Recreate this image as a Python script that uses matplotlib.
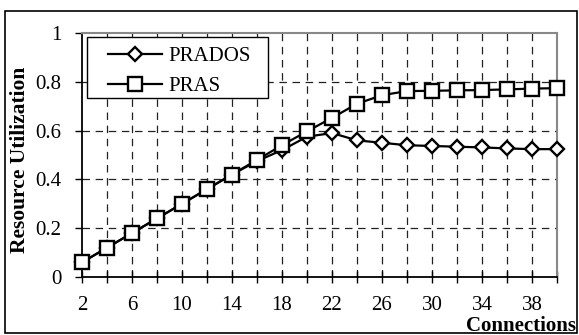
import matplotlib
matplotlib.use("Agg")
import matplotlib.pyplot as plt
from matplotlib.patches import Rectangle

connections = [2, 4, 6, 8, 10, 12, 14, 16, 18, 20, 22, 24, 26, 28, 30, 32, 34, 36, 38, 40]
prados = [0.06, 0.12, 0.18, 0.24, 0.30, 0.36, 0.42, 0.475, 0.52, 0.575, 0.59, 0.56, 0.55, 0.54, 0.537, 0.534, 0.531, 0.527, 0.524, 0.524]
pras = [0.06, 0.12, 0.18, 0.24, 0.30, 0.36, 0.42, 0.48, 0.54, 0.597, 0.652, 0.71, 0.745, 0.762, 0.763, 0.765, 0.766, 0.769, 0.772, 0.774]
xtick_labels = ["2", "", "6", "", "10", "", "14", "", "18", "", "22", "", "26", "", "30", "", "34", "", "38", ""]
ytick_values = [0, 0.2, 0.4, 0.6, 0.8, 1.0]
ytick_labels = ["0", "0.2", "0.4", "0.6", "0.8", "1"]

plt.rcParams['font.family'] = ['Liberation Serif', 'DejaVu Serif']

W, H = 579, 335
fig = plt.figure(figsize=(W / 100, H / 100), dpi=100)

def fx(px):
    return px / W

def fy(py):
    return 1 - py / H

AX_L, AX_R, AX_T, AX_B = 82, 557, 33, 277
ax = fig.add_axes([fx(AX_L), fy(AX_B), fx(AX_R) - fx(AX_L), fy(AX_T) - fy(AX_B)])

def ax_x(px):
    return (px - AX_L) / (AX_R - AX_L)

def ax_y(py):
    return (AX_B - py) / (AX_B - AX_T)

ax.plot(connections, prados, color='black', lw=1.6, marker='D', ms=7.2,
        mfc='white', mec='black', mew=1.7, label='PRADOS', zorder=3, clip_on=False)
ax.plot(connections, pras, color='black', lw=1.6, marker='s', ms=9.5,
        mfc='white', mec='black', mew=1.7, label='PRAS', zorder=4, clip_on=False)

ax.set_xlim(2, 40)
ax.set_ylim(0, 1)
ax.set_xticks(connections)
ax.set_xticklabels(xtick_labels)
ax.set_yticks(ytick_values)
ax.set_yticklabels(ytick_labels)

ax.tick_params(axis='x', direction='inout', length=9, width=1, labelsize=15, pad=9.5, color='black')
ax.tick_params(axis='y', direction='out', length=5, width=1, labelsize=15, pad=10, color='black')

for v in connections[1:-1]:
    ax.axvline(v, color='#222222', lw=0.9, ls=(0, (6, 4.5)), zorder=1)
for v in ytick_values[1:-1]:
    ax.axhline(v, color='#222222', lw=0.9, ls=(0, (6, 4.5)), zorder=1)

for s in ['top', 'right']:
    ax.spines[s].set_color('#888888')
    ax.spines[s].set_linewidth(1.5)
for s in ['left', 'bottom']:
    ax.spines[s].set_color('black')
    ax.spines[s].set_linewidth(1.3)

# legend frame drawn separately (wide horizontal padding, tight vertical padding)
ax.add_patch(Rectangle((ax_x(87), ax_y(98)), ax_x(268) - ax_x(87), ax_y(37) - ax_y(98),
                       transform=ax.transAxes, facecolor='white', edgecolor='black',
                       lw=1.0, zorder=4.9, clip_on=False))
leg = ax.legend(loc='upper left', bbox_to_anchor=(ax_x(102), ax_y(40)), borderaxespad=0,
                fontsize=15, handlelength=2.6, handletextpad=0.3, labelspacing=0.5,
                borderpad=0.3, frameon=False)
leg.set_zorder(5)

fig.text(fx(20), fy(160), 'Resource Utilization', rotation=90, ha='center', va='center',
         fontsize=15.5, fontweight='bold')
fig.text(fx(521), fy(326), 'Connections', ha='center', va='center',
         fontsize=15, fontweight='bold')

fig.patches.append(Rectangle((fx(5), fy(333)), fx(577) - fx(5), fy(11) - fy(333),
                             transform=fig.transFigure, fill=False, edgecolor='black', lw=1.2))

fig.savefig('out.png', dpi=100)
